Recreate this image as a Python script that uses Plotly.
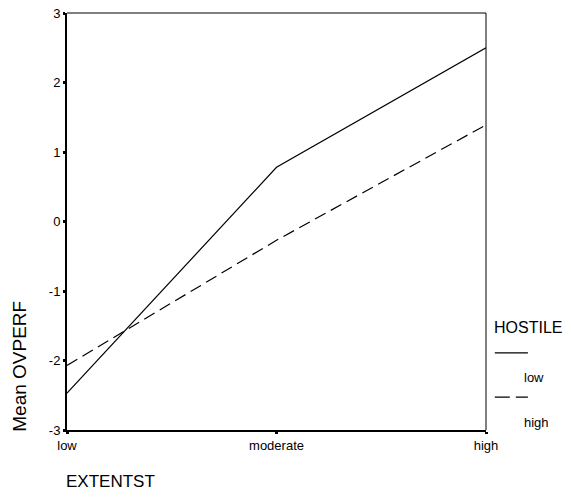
import plotly.graph_objects as go

categories = ["low", "moderate", "high"]
hostile_low = [-2.47, 0.78, 2.50]
hostile_high = [-2.07, -0.27, 1.39]
y_ticks = [-3, -2, -1, 0, 1, 2, 3]
y_tick_text = ["-3", "-2", "-1", "0", "1", "2", "3"]

FONT = "Liberation Sans, Arial, sans-serif"
DASH = "12px,6px"

fig = go.Figure()
fig.add_trace(go.Scatter(x=categories, y=hostile_low, mode="lines", name="low",
                         line=dict(color="black", width=1.2)))
fig.add_trace(go.Scatter(x=categories, y=hostile_high, mode="lines", name="high",
                         line=dict(color="black", width=1.2, dash=DASH)))

# the page body has an 8px margin on every side, so the figure is 16px
# smaller than the window to keep the page from overflowing
fig.update_layout(
    width=555, height=485,
    margin=dict(l=59, r=77, t=5, b=63),
    paper_bgcolor="white", plot_bgcolor="white",
    showlegend=False,
    font=dict(family=FONT, size=13, color="black"),
)
fig.update_xaxes(
    type="category", range=[0, 2], automargin=False,
    showgrid=False, zeroline=False,
    showline=True, linecolor="black", linewidth=2,
    ticks="outside", ticklen=2, tickwidth=3, tickcolor="black",
    tickfont=dict(size=13), ticklabeloverflow="allow",
)
fig.update_yaxes(
    range=[-3, 3], tickvals=y_ticks, ticktext=y_tick_text, automargin=False,
    showgrid=False, zeroline=False,
    showline=True, linecolor="black", linewidth=2,
    ticks="outside", ticklen=2, tickwidth=3, tickcolor="black",
    tickfont=dict(size=13), ticklabeloverflow="allow",
)

# thin box on top and right
fig.add_shape(type="line", xref="paper", yref="paper", x0=0, x1=1, y0=1, y1=1,
              line=dict(color="black", width=1))
fig.add_shape(type="line", xref="paper", yref="paper", x0=1, x1=1, y0=0, y1=1,
              line=dict(color="black", width=1))

# axis titles
fig.add_annotation(text="Mean OVPERF", xref="paper", yref="paper", x=-0.112, y=-0.01,
                   xanchor="center", yanchor="bottom", textangle=-90, showarrow=False,
                   font=dict(size=19))
fig.add_annotation(text="EXTENTST", xref="paper", yref="paper", x=-0.008, y=-0.150,
                   xanchor="left", yanchor="bottom", showarrow=False,
                   font=dict(size=17))

# legend
fig.add_annotation(text="HOSTILE", xref="paper", yref="paper", x=1.014, y=0.245,
                   xanchor="left", yanchor="middle", showarrow=False, font=dict(size=16))
fig.add_shape(type="line", xref="paper", yref="paper", x0=1.021, x1=1.100, y0=0.185, y1=0.185,
              line=dict(color="black", width=1.2))
fig.add_annotation(text="low", xref="paper", yref="paper", x=1.086, y=0.125,
                   xanchor="left", yanchor="middle", showarrow=False, font=dict(size=13))
fig.add_shape(type="line", xref="paper", yref="paper", x0=1.021, x1=1.100, y0=0.079, y1=0.079,
              line=dict(color="black", width=1.2, dash="15px,6px"))
fig.add_annotation(text="high", xref="paper", yref="paper", x=1.086, y=0.019,
                   xanchor="left", yanchor="middle", showarrow=False, font=dict(size=13))

fig.write_html("out.html")
